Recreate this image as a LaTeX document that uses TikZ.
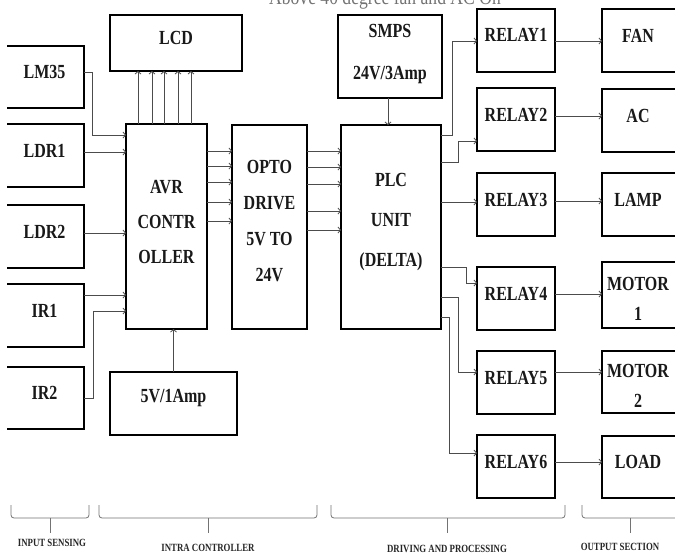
\documentclass[tikz,border=0pt]{standalone}
\usepackage{fontspec}
\setmainfont{Liberation Serif}[FakeStretch=0.8]
\usetikzlibrary{arrows.meta}
\tikzset{
  box/.style={draw=black, line width=1.7pt, inner sep=0pt, outer sep=0pt},
  lbl/.style={inner sep=0pt, align=center, text=black!90},
  conn/.style={draw=black!70, line width=0.8pt, -{Straight Barb[length=2.5pt,width=6pt]}},
  brc/.style={draw=black!55, line width=0.8pt, rounded corners=3pt},
  sec/.style={font=\fontsize{11}{13}\selectfont\bfseries, text=black!85, inner sep=0pt},
}
\newcommand\bx[8]{%
  \node[box, minimum width={(#4-#2)*1pt}, minimum height={(#5-#3)*1pt}] (#1) at ({(#2+#4)/2},{(#3+#5)/2}) {};
  \node[lbl, font={\fontsize{20}{#7}\selectfont\bfseries}] (#1-t) at ({(#2+#4)/2},{(#3+#5)/2+#6}) {#8};}
\newcommand\rbx[6]{%
  \node[box, minimum width=88pt, minimum height={(#3-#2)*1pt}] (#1) at (646,{(#2+#3)/2}) {};
  \node[lbl, font={\fontsize{20}{#5}\selectfont\bfseries}] (#1-t) at (638,{(#2+#3)/2+#4}) {#6};}
\begin{document}
\begin{tikzpicture}[x=1pt,y=-1pt]
\useasboundingbox (0,0) rectangle (675,555);
\fill[white] (0,0) rectangle (675,555);
\clip (7,0) rectangle (675,555);
% caption (cut off at the top)
\node[font=\fontsize{22}{24}\selectfont, text=black!55, anchor=base, inner sep=0pt] (cap) at (385,4) {Above 40 degree fan and AC On};
% boxes
\bx{lcd}{110}{15}{242}{71}{-5}{23}{LCD}
\bx{lm35}{5}{46}{84}{108}{-5}{23}{LM35}
\bx{ldr1}{5}{124}{84}{187}{-5}{23}{LDR1}
\bx{ldr2}{5}{205}{84}{268}{-5}{23}{LDR2}
\bx{ir1}{5}{284}{84}{347}{-5}{23}{IR1}
\bx{ir2}{5}{367}{84}{429}{-5}{23}{IR2}
\bx{avr}{126}{124}{207}{329}{-5}{35}{AVR\\CONTR\\OLLER}
\bx{opto}{232}{125}{307}{329}{-6}{36}{OPTO\\DRIVE\\5V TO\\24V}
\bx{psu}{110}{372}{237}{435}{-5}{23}{5V/1Amp}
\bx{smps}{338}{15}{442}{98}{-2}{42}{SMPS\\24V/3Amp}
\bx{plc}{341}{125}{441}{329}{-5}{40}{PLC\\UNIT\\(DELTA)}
\bx{r1}{477}{9}{555}{72}{-6}{23}{RELAY1}
\bx{r2}{477}{88}{555}{151}{-5}{23}{RELAY2}
\bx{r3}{477}{173}{555}{236}{-5}{23}{RELAY3}
\bx{r4}{477}{267}{555}{330}{-5}{23}{RELAY4}
\bx{r5}{477}{351}{555}{414}{-5}{23}{RELAY5}
\bx{r6}{477}{435}{555}{498}{-5}{23}{RELAY6}
\rbx{fan}{9}{72}{-5}{23}{FAN}
\rbx{ac}{89}{152}{-5}{23}{AC}
\rbx{lamp}{173}{236}{-5}{23}{LAMP}
\rbx{mot1}{262}{328}{4}{30}{MOTOR\\1}
\rbx{mot2}{351}{413}{4}{30}{MOTOR\\2}
\rbx{load}{436}{498}{-5}{23}{LOAD}
% inputs
\draw[conn] (lm35.east |- 0,72) -- ++(8,0) |- (avr.west |- 0,135);
\draw[conn] (ldr1.east |- 0,152) -- (avr.west |- 0,152);
\draw[conn] (ldr2.east |- 0,233) -- (avr.west |- 0,233);
\draw[conn] (ir1.east |- 0,295) -- (avr.west |- 0,295);
\draw[conn] (ir2.east |- 0,398) -- ++(9,0) |- (avr.west |- 0,311);
% AVR to LCD
\foreach \xx in {138,152,164,178,191}
  \draw[conn] (avr.north -| \xx,0) -- (lcd.south -| \xx,0);
% AVR to OPTO
\foreach \yy in {151,166,182,202,221}
  \draw[conn] (avr.east |- 0,\yy) -- (opto.west |- 0,\yy);
% OPTO to PLC
\foreach \yy in {151,167,184,211,230}
  \draw[conn] (opto.east |- 0,\yy) -- (plc.west |- 0,\yy);
% supplies
\draw[conn] (psu.north) -- (avr.south -| psu.north);
\draw[conn] (smps.south -| 388,0) -- (plc.north -| 388,0);
% PLC to relays
\draw[conn] (plc.east |- 0,135) -- ++(11,0) |- (r1.west |- 0,41);
\draw[conn] (plc.east |- 0,162) -- ++(17,0) |- (r2.west |- 0,141);
\draw[conn] (plc.east |- 0,202) -- (r3.west |- 0,202);
\draw[conn] (plc.east |- 0,267) -- ++(25,0) |- (r4.west |- 0,283);
\draw[conn] (plc.east |- 0,297) -- ++(17,0) |- (r5.west |- 0,372);
\draw[conn] (plc.east |- 0,317) -- ++(8,0) |- (r6.west |- 0,453);
% relays to loads
\draw[conn] (r1.east |- 0,41) -- (fan.west |- 0,41);
\draw[conn] (r2.east |- 0,116) -- (ac.west |- 0,116);
\draw[conn] (r3.east |- 0,201) -- (lamp.west |- 0,201);
\draw[conn] (r4.east |- 0,294) -- (mot1.west |- 0,294);
\draw[conn] (r5.east |- 0,372) -- (mot2.west |- 0,372);
\draw[conn] (r6.east |- 0,462) -- (load.west |- 0,462);
% section braces
\draw[brc] (11,505) -- (11,518) -- (89,518) -- (89,505);
\draw[brc] (50,518) -- (50,533);
\draw[brc] (99,505) -- (99,518) -- (317,518) -- (317,505);
\draw[brc] (208,518) -- (208,533);
\draw[brc] (331,505) -- (331,518) -- (565,518) -- (565,505);
\draw[brc] (447,518) -- (447,533);
\draw[brc] (582,505) -- (582,518) -- (690,518);
\draw[brc] (630,518) -- (630,533);
\node[sec] (s1) at (52,543) {INPUT SENSING};
\node[sec] (s2) at (208,548) {INTRA CONTROLLER};
\node[sec] (s3) at (447,549) {DRIVING AND PROCESSING};
\node[sec] (s4) at (620,547) {OUTPUT SECTION};
\end{tikzpicture}
\end{document}
